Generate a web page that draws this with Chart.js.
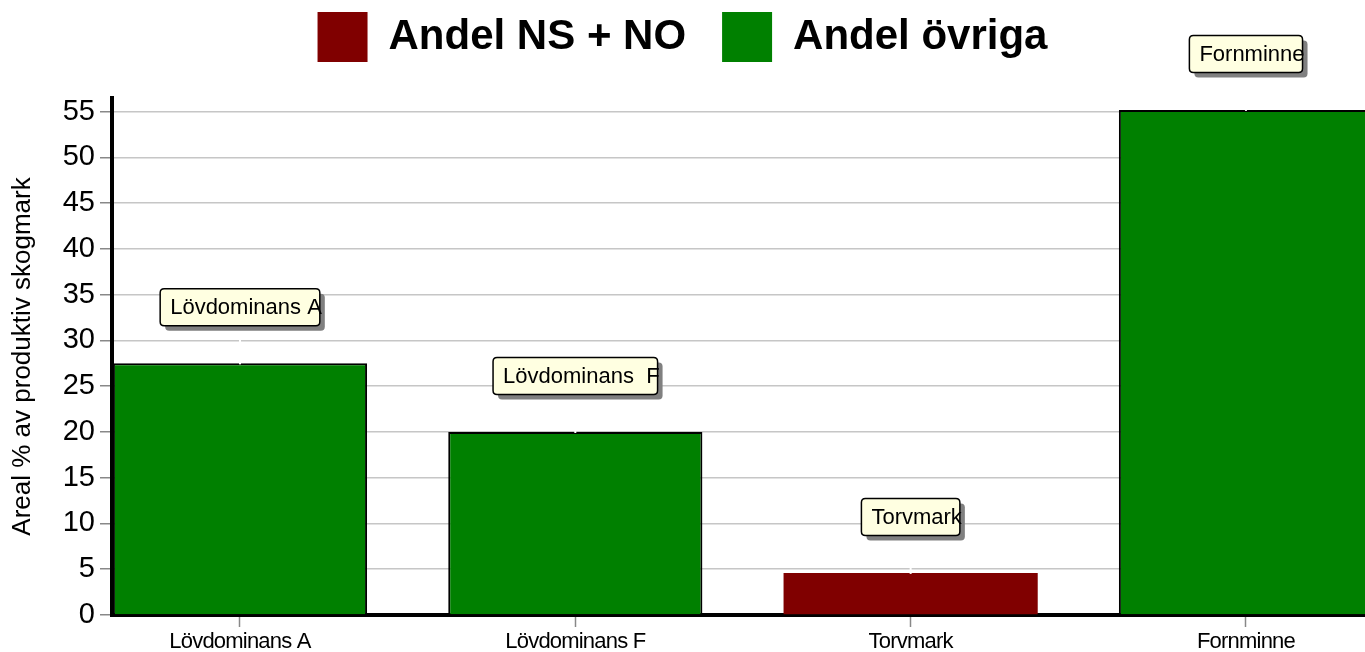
<!DOCTYPE html>
<html>
<head>
<meta charset="utf-8">
<script src="https://cdn.jsdelivr.net/npm/chart.js@4.4.1/dist/chart.umd.min.js"></script>
<style>
  html, body { margin: 0; padding: 0; background: #ffffff; }
  #wrap { width: 1365px; height: 652px; position: relative; }
</style>
</head>
<body>
<div id="wrap"><canvas id="c"></canvas></div>
<script>
// ---- data ----
const categories = ['Lövdominans A', 'Lövdominans F', 'Torvmark', 'Fornminne'];
const calloutLabels = ['Lövdominans A', 'Lövdominans  F', 'Torvmark', 'Fornminne'];
const seriesNames = ['Andel NS + NO', 'Andel övriga'];
const andelNsNo = [null, null, 4.6, null];
const andelOvriga = [27.5, 20.0, null, 55.2];
const yTickValues = [0, 5, 10, 15, 20, 25, 30, 35, 40, 45, 50, 55];
const yTitle = 'Areal % av produktiv skogmark';

const FONT = "'Liberation Sans', Arial, Helvetica, sans-serif";
Chart.defaults.font.family = FONT;
Chart.defaults.color = '#000';

const toPoints = arr => arr.map((v, i) => ({ x: i, y: v })).filter(p => p.y !== null);

function roundRectPath(ctx, x, y, w, h, r) {
  ctx.beginPath();
  ctx.moveTo(x + r, y);
  ctx.lineTo(x + w - r, y);
  ctx.quadraticCurveTo(x + w, y, x + w, y + r);
  ctx.lineTo(x + w, y + h - r);
  ctx.quadraticCurveTo(x + w, y + h, x + w - r, y + h);
  ctx.lineTo(x + r, y + h);
  ctx.quadraticCurveTo(x, y + h, x, y + h - r);
  ctx.lineTo(x, y + r);
  ctx.quadraticCurveTo(x, y, x + r, y);
  ctx.closePath();
}

// tighter letter spacing for the category labels under the x axis
const tightXLabels = {
  id: 'tightXLabels',
  beforeDraw(chart) {
    const s = chart.scales.x;
    if (s && !s.__tight) {
      const orig = s.drawLabels;
      s.drawLabels = function (area) {
        const ctx = this.ctx;
        ctx.save();
        if ('letterSpacing' in ctx) ctx.letterSpacing = '-0.8px';
        orig.call(this, area);
        ctx.restore();
      };
      s.__tight = true;
    }
  }
};

const calloutPlugin = {
  id: 'callouts',
  afterDatasetsDraw(chart) {
    const { ctx } = chart;
    const xs = chart.scales.x, ys = chart.scales.y;
    ctx.save();
    categories.forEach((c, i) => {
      const total = (andelNsNo[i] ?? 0) + (andelOvriga[i] ?? 0);
      const cx = xs.getPixelForValue(i);
      const top = ys.getPixelForValue(total);
      // thin white marker at bar top
      ctx.strokeStyle = '#ffffff';
      ctx.lineWidth = 2;
      ctx.beginPath();
      ctx.moveTo(cx, top + 1);
      ctx.lineTo(cx, top - 30);
      ctx.stroke();
      // callout box
      ctx.font = '22px ' + FONT;
      const text = calloutLabels[i];
      const tw = ctx.measureText(text).width;
      const w = tw + 8, h = 37;
      const bx = cx - w / 2, by = top - 56 - h / 2;
      ctx.fillStyle = '#808080';
      roundRectPath(ctx, bx + 5, by + 5, w, h, 4);
      ctx.fill();
      ctx.fillStyle = '#ffffe1';
      roundRectPath(ctx, bx, by, w, h, 4);
      ctx.fill();
      ctx.strokeStyle = '#000';
      ctx.lineWidth = 1.5;
      ctx.stroke();
      ctx.fillStyle = '#000';
      ctx.textAlign = 'left';
      ctx.textBaseline = 'middle';
      ctx.fillText(text, bx + 10, by + h / 2 + 1);
    });
    ctx.restore();
  }
};

new Chart(document.getElementById('c'), {
  type: 'bar',
  data: {
    datasets: [
      {
        label: seriesNames[0],
        data: toPoints(andelNsNo),
        backgroundColor: '#800000',
        borderWidth: 0,
        barPercentage: 0.758,
        categoryPercentage: 1
      },
      {
        label: seriesNames[1],
        data: toPoints(andelOvriga),
        backgroundColor: '#008000',
        borderColor: '#000000',
        borderWidth: 2,
        borderSkipped: 'start',
        barPercentage: 0.758,
        categoryPercentage: 1
      }
    ]
  },
  options: {
    responsive: true,
    maintainAspectRatio: false,
    animation: false,
    layout: { padding: { top: -24, left: 0, right: 0, bottom: 0 } },
    plugins: {
      tooltip: { enabled: false },
      legend: {
        display: true,
        position: 'top',
        labels: {
          boxWidth: 50,
          boxHeight: 50,
          padding: 36,
          color: '#000',
          font: { size: 42, weight: 'bold', family: FONT },
          generateLabels(chart) {
            const items = Chart.defaults.plugins.legend.labels.generateLabels(chart);
            items.forEach(it => { it.lineWidth = 0; });
            return items;
          }
        }
      }
    },
    scales: {
      x: {
        type: 'linear',
        position: 'bottom',
        stacked: true,
        offset: false,
        min: -0.3817,
        max: 3.355,
        afterBuildTicks: s => { s.ticks = categories.map((_, i) => ({ value: i })); },
        afterFit: s => { s.height = 37; },
        ticks: {
          autoSkip: false,
          maxRotation: 0,
          padding: 2,
          color: '#000',
          font: { size: 22, family: FONT },
          callback: v => categories[v] ?? ''
        },
        grid: {
          display: true,
          offset: false,
          drawOnChartArea: false,
          drawTicks: true,
          tickLength: 12,
          tickColor: '#888888',
          tickWidth: 1.5
        },
        border: { display: true, color: '#000', width: 4 }
      },
      xTop: {
        type: 'linear',
        position: 'top',
        display: true,
        grid: { display: false },
        border: { display: false },
        ticks: { display: false },
        afterFit: s => { s.height = 26; }
      },
      y: {
        type: 'linear',
        position: 'left',
        stacked: true,
        min: 0,
        max: 56.5,
        afterBuildTicks: s => { s.ticks = yTickValues.map(v => ({ value: v })); },
        afterFit: s => { s.width = 112; },
        ticks: {
          padding: 5,
          color: '#000',
          font: { size: 29, family: FONT }
        },
        title: {
          display: true,
          text: yTitle,
          color: '#000',
          font: { size: 26, family: FONT },
          padding: { top: 7, bottom: 0 }
        },
        grid: {
          display: true,
          drawOnChartArea: true,
          color: '#c6c6c6',
          lineWidth: 1.5,
          drawTicks: true,
          tickLength: 12,
          tickColor: '#888888',
          tickWidth: 1.5
        },
        border: { display: true, color: '#000', width: 4 }
      }
    }
  },
  plugins: [tightXLabels, calloutPlugin]
});
</script>
</body>
</html>
